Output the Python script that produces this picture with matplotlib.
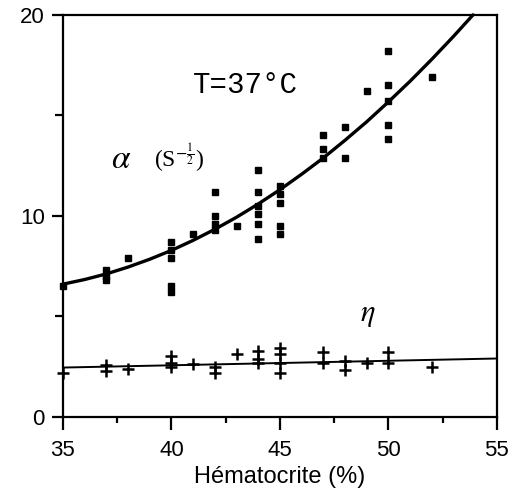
import numpy as np
import matplotlib
matplotlib.use("Agg")
import matplotlib.pyplot as plt
from matplotlib.ticker import MultipleLocator

plt.rcParams['mathtext.fontset'] = 'stix'

# alpha (s^-1/2) measurements
alpha_x = [35, 37, 37, 37, 38, 40, 40, 40, 40, 40, 41, 42, 42, 42, 42, 43,
           44, 44, 44, 44, 44, 44, 45, 45, 45, 45, 45, 47, 47, 47, 48, 48,
           49, 50, 50, 50, 50, 50, 52]
alpha_y = [6.5, 7.3, 7.0, 6.8, 7.9, 8.7, 8.3, 7.9, 6.5, 6.2, 9.1, 11.2, 10.0, 9.6, 9.3, 9.5,
           12.3, 11.2, 10.5, 10.1, 9.6, 8.85, 11.5, 11.1, 10.65, 9.5, 9.1, 14.0, 13.3, 12.9, 14.4, 12.9,
           16.2, 18.2, 16.5, 15.7, 14.5, 13.8, 16.9]

# fitted alpha curve
fit_x = [35, 36, 37, 38, 39, 40, 41, 42, 43, 44, 45, 46, 47, 48, 49, 50, 51, 52, 53, 53.9]
fit_y = [6.60, 6.83, 7.11, 7.45, 7.84, 8.28, 8.78, 9.33, 9.93, 10.59, 11.30, 12.07,
         12.88, 13.76, 14.68, 15.67, 16.70, 17.79, 18.93, 20.0]

# eta measurements
eta_x = [35, 37, 37, 38, 40, 40, 40, 41, 42, 42, 43, 44, 44, 44, 45, 45, 45, 45,
         47, 47, 48, 48, 49, 50, 50, 52]
eta_y = [2.2, 2.6, 2.3, 2.4, 3.0, 2.7, 2.5, 2.65, 2.5, 2.2, 3.1, 3.25, 2.9, 2.7, 3.4, 3.1, 2.7, 2.2,
         3.2, 2.7, 2.8, 2.35, 2.7, 3.2, 2.7, 2.5]

eta_line_x = [35, 55]
eta_line_y = [2.45, 2.9]

fig = plt.figure(figsize=(5.16, 4.95), dpi=100)
ax = fig.add_axes([0.122, 0.158, 0.841, 0.812])

ax.plot(fit_x, fit_y, color='black', lw=2.4, solid_capstyle='round',
        solid_joinstyle='round', clip_on=False)
ax.plot(alpha_x, alpha_y, 's', color='black', ms=5, clip_on=False)
ax.plot(eta_line_x, eta_line_y, color='black', lw=1.4, clip_on=False)
ax.plot(eta_x, eta_y, '+', color='black', ms=9, mew=1.8, clip_on=False)

ax.set_xlim(35, 55)
ax.set_ylim(0, 20)
ax.xaxis.set_major_locator(MultipleLocator(5))
ax.xaxis.set_minor_locator(MultipleLocator(2.5))
ax.yaxis.set_major_locator(MultipleLocator(10))
ax.yaxis.set_minor_locator(MultipleLocator(5))

for s in ax.spines.values():
    s.set_linewidth(1.6)
ax.tick_params(which='major', direction='out', width=1.6, labelsize=16)
ax.tick_params(axis='x', which='major', length=9, pad=8)
ax.tick_params(axis='y', which='major', length=8, pad=5)
ax.tick_params(axis='x', which='minor', direction='out', length=4, width=1.6)
ax.tick_params(axis='y', which='minor', direction='out', length=6, width=1.6)
for lab in ax.get_xticklabels() + ax.get_yticklabels():
    lab.set_family('Liberation Sans')

ax.set_xlabel('Hématocrite (%)', fontsize=17, family='Liberation Sans', labelpad=3)

ax.text(41.0, 16.1, 'T=37°C', fontsize=21, family='Liberation Mono')
ax.text(37.2, 12.4, r'$\alpha$', fontsize=24)
ax.text(39.2, 12.4, r'(S$^{-\frac{1}{2}}$)', fontsize=17, family='Liberation Serif')
ax.text(48.7, 4.75, r'$\eta$', fontsize=22)

fig.savefig('out.png', dpi=100)
